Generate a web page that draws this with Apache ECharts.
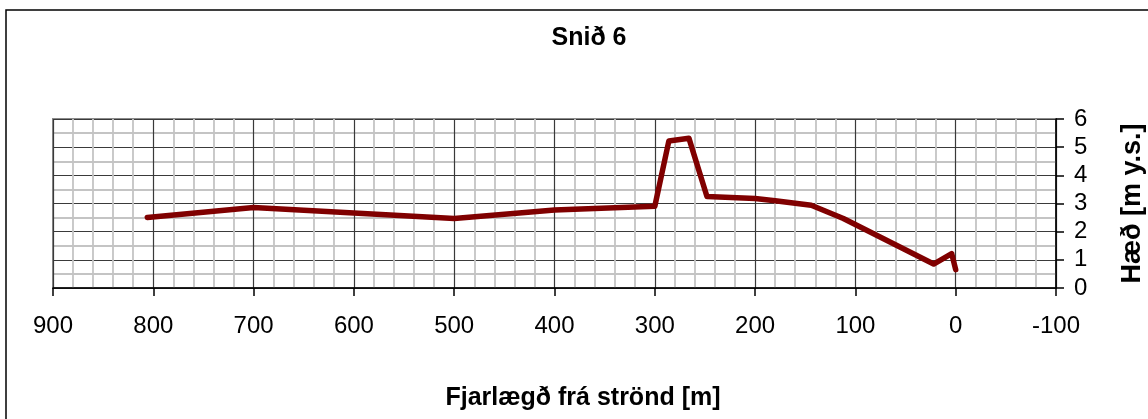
<!DOCTYPE html>
<html>
<head>
<meta charset="utf-8">
<title>Snið 6</title>
<script src="https://cdn.jsdelivr.net/npm/echarts@6/dist/echarts.min.js"></script>
<style>
  html, body { margin: 0; padding: 0; background: #fff; }
  #chart { width: 1148px; height: 419px; }
</style>
</head>
<body>
<div id="chart"></div>
<script>
// Profile: distance from shore (m) and elevation (m above sea level)
const distance = [806, 700, 500, 400, 300, 286, 266, 248, 200, 180, 144, 112, 22, 4, 0];
const elevation = [2.5, 2.86, 2.47, 2.77, 2.9, 5.22, 5.32, 3.25, 3.18, 3.1, 2.94, 2.47, 0.85, 1.22, 0.65];

const xTicks = { min: -100, max: 900, step: 100 };
const yTicks = { min: 0, max: 6, step: 1 };

const chartTitle = 'Snið 6';
const xTitle = 'Fjarlægð frá strönd [m]';
const yTitle = 'Hæð [m y.s.]';

const FONT = '"Liberation Sans", Arial, sans-serif';

const chart = echarts.init(document.getElementById('chart'), null, { renderer: 'canvas' });

chart.setOption({
  animation: false,
  backgroundColor: '#ffffff',
  graphic: [
    {
      type: 'rect',
      shape: { x: 6, y: 10, width: 1200, height: 500 },
      style: { fill: 'none', stroke: '#000', lineWidth: 1.5 },
      z: -1
    },
    {
      type: 'text',
      x: 589, y: 38,
      style: {
        text: chartTitle,
        fontFamily: FONT, fontWeight: 'bold', fontSize: 25,
        fill: '#000', align: 'center', verticalAlign: 'middle'
      }
    }
  ],
  grid: {
    left: 53, right: 92, top: 119, bottom: 131,
    outerBoundsMode: 'none',
    containLabel: false,
    show: true, borderColor: '#8a8a8a', borderWidth: 2, backgroundColor: 'transparent'
  },
  xAxis: {
    type: 'value',
    inverse: true,
    min: xTicks.min, max: xTicks.max, interval: xTicks.step,
    name: xTitle,
    nameLocation: 'middle',
    nameGap: 98,
    nameTextStyle: {
      fontFamily: FONT, fontWeight: 'bold', fontSize: 25, color: '#000',
      padding: [0, 0, 0, 57]
    },
    axisLine: { show: true, onZero: false, lineStyle: { color: '#000', width: 1.5 } },
    axisTick: { show: true, length: 8, lineStyle: { color: '#000', width: 1.5 } },
    axisLabel: { margin: 26, fontFamily: FONT, fontSize: 24, color: '#000' },
    splitLine: { show: true, lineStyle: { color: '#3a3a3a', width: 1.2 } },
    minorTick: { show: false, splitNumber: 5 },
    minorSplitLine: { show: true, lineStyle: { color: '#c4c4c4', width: 1.8 } }
  },
  yAxis: {
    type: 'value',
    position: 'right',
    min: yTicks.min, max: yTicks.max, interval: yTicks.step,
    name: yTitle,
    nameLocation: 'middle',
    nameRotate: 90,
    nameGap: 63,
    nameTextStyle: { fontFamily: FONT, fontWeight: 'bold', fontSize: 27, color: '#000' },
    axisLine: { show: true, onZero: false, lineStyle: { color: '#000', width: 1.5 } },
    axisTick: { show: true, length: 8, lineStyle: { color: '#000', width: 1.5 } },
    axisLabel: { margin: 18, fontFamily: FONT, fontSize: 24, color: '#000' },
    splitLine: { show: true, lineStyle: { color: '#3a3a3a', width: 1.2 } },
    minorTick: { show: false, splitNumber: 2 },
    minorSplitLine: { show: true, lineStyle: { color: '#c4c4c4', width: 1.8 } }
  },
  series: [{
    type: 'line',
    data: distance.map((d, i) => [d, elevation[i]]),
    showSymbol: false,
    symbol: 'none',
    lineStyle: { color: '#800000', width: 5.5, join: 'round', cap: 'round' },
    z: 5
  }]
});
</script>
</body>
</html>
